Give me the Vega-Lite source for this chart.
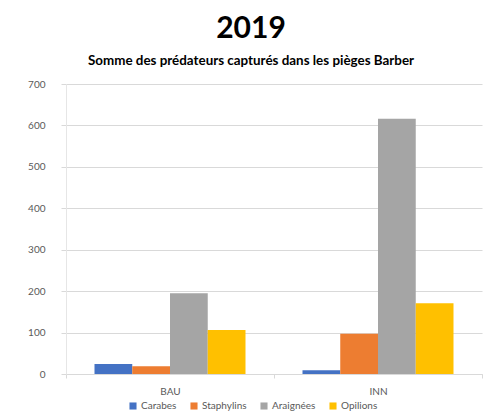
{
  "$schema": "https://vega.github.io/schema/vega-lite/v6.json",
  "width": 416,
  "height": 290,
  "autosize": "none",
  "padding": {"left": 66, "top": 84, "right": 10, "bottom": 43},
  "background": "white",
  "title": {
    "text": "2019",
    "subtitle": "Somme des prédateurs capturés dans les pièges Barber",
    "anchor": "middle",
    "dx": -23,
    "offset": 12,
    "font": "Lato",
    "fontSize": 30,
    "fontWeight": "bold",
    "color": "black",
    "subtitleFont": "Lato",
    "subtitleFontSize": 13.4,
    "subtitleFontWeight": "bold",
    "subtitleColor": "black",
    "subtitlePadding": 10
  },
  "data": {
    "values": [
      {"groupe": "BAU", "espece": "Carabes", "valeur": 24},
      {"groupe": "BAU", "espece": "Staphylins", "valeur": 19},
      {"groupe": "BAU", "espece": "Araignées", "valeur": 195},
      {"groupe": "BAU", "espece": "Opilions", "valeur": 106},
      {"groupe": "INN", "espece": "Carabes", "valeur": 9},
      {"groupe": "INN", "espece": "Staphylins", "valeur": 97},
      {"groupe": "INN", "espece": "Araignées", "valeur": 616},
      {"groupe": "INN", "espece": "Opilions", "valeur": 171}
    ]
  },
  "mark": {"type": "bar"},
  "encoding": {
    "x": {
      "field": "groupe",
      "type": "nominal",
      "scale": {"paddingInner": 0, "paddingOuter": 0},
      "axis": {
        "title": null,
        "labelAngle": 0,
        "labelFont": "Lato",
        "labelFontSize": 10,
        "labelColor": "#595959",
        "labelPadding": 8,
        "domainColor": "#d9d9d9",
        "tickColor": "#d9d9d9",
        "tickBand": "extent",
        "tickSize": 4
      }
    },
    "xOffset": {
      "field": "espece",
      "sort": ["Carabes", "Staphylins", "Araignées", "Opilions"],
      "scale": {"paddingInner": 0, "paddingOuter": 0.755}
    },
    "y": {
      "field": "valeur",
      "type": "quantitative",
      "scale": {"domain": [0, 700]},
      "axis": {
        "title": null,
        "values": [0, 100, 200, 300, 400, 500, 600, 700],
        "labelFont": "Lato",
        "labelFontSize": 10,
        "labelColor": "#595959",
        "labelPadding": 16,
        "domain": true,
        "domainColor": "#e6e6e6",
        "tickSize": 5,
        "tickColor": "#d9d9d9",
        "gridColor": "#d9d9d9"
      }
    },
    "color": {
      "field": "espece",
      "type": "nominal",
      "sort": ["Carabes", "Staphylins", "Araignées", "Opilions"],
      "scale": {
        "domain": ["Carabes", "Staphylins", "Araignées", "Opilions"],
        "range": ["#4472C4", "#ED7D31", "#A5A5A5", "#FFC000"]
      },
      "legend": {
        "title": null,
        "orient": "none",
        "direction": "horizontal",
        "legendX": 62,
        "legendY": 317,
        "symbolType": "square",
        "symbolSize": 50,
        "symbolStrokeWidth": 0,
        "labelFont": "Lato",
        "labelFontSize": 10,
        "labelColor": "#595959",
        "labelOffset": 3,
        "columnPadding": 12
      }
    }
  },
  "config": {
    "view": {"stroke": null}
  }
}
